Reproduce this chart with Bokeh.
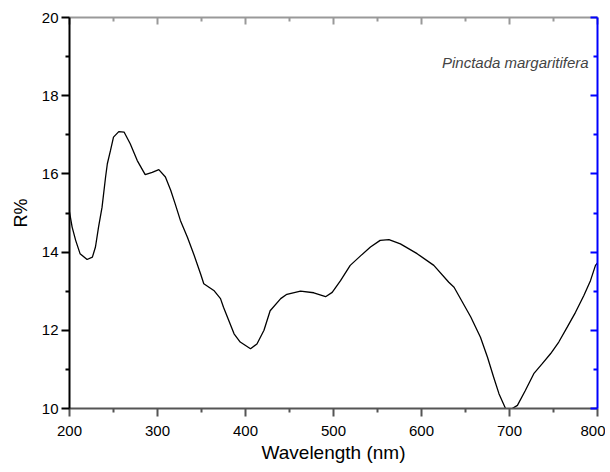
from bokeh.plotting import figure
from bokeh.models import Range1d, LinearAxis, FixedTicker, Label
from bokeh.embed import file_html
from bokeh.resources import INLINE

wavelength = [199, 203, 207, 212, 220, 226, 229.5, 233, 237, 241, 243, 246.6, 250, 256, 262, 269,
              277, 286, 294, 301.5, 309, 315, 320, 326, 334, 341, 349, 352.6, 364, 371.6, 375,
              387, 394, 405.7, 413, 421, 428, 440, 447, 462.5, 477.6, 491, 498.5, 508, 519,
              531, 542, 553, 563, 576, 595, 614, 631, 637, 656, 667, 675, 682, 688, 695.5,
              701, 709, 718, 727.6, 737, 746.6, 756, 765.6, 775, 784.5, 792, 797.7, 800]
reflectance = [15.15, 14.64, 14.3, 13.96, 13.81, 13.87, 14.13, 14.64, 15.15, 15.92, 16.26, 16.6,
               16.94, 17.08, 17.07, 16.77, 16.34, 15.98, 16.04, 16.11, 15.92, 15.58, 15.24,
               14.81, 14.38, 13.96, 13.44, 13.19, 13.02, 12.81, 12.59, 11.91, 11.7, 11.53,
               11.65, 12.0, 12.5, 12.81, 12.92, 13.0, 12.96, 12.86, 12.97, 13.27, 13.66,
               13.91, 14.13, 14.3, 14.32, 14.21, 13.96, 13.66, 13.23, 13.1, 12.34, 11.82,
               11.31, 10.8, 10.38, 10.0, 9.97, 10.08, 10.46, 10.89, 11.14, 11.4, 11.7, 12.08,
               12.46, 12.89, 13.27, 13.66, 13.72]

x_ticks = [200, 300, 400, 500, 600, 700, 800]
x_minor = [250, 350, 450, 550, 650, 750]
y_ticks = [10, 12, 14, 16, 18, 20]
y_minor = [11, 13, 15, 17, 19]
x_label = "Wavelength (nm)"
y_label = "R%"
species = "Pinctada margaritifera"

FONT = "Liberation Sans"

p = figure(frame_width=528, frame_height=391, output_backend="svg", toolbar_location=None,
           x_range=Range1d(200, 800), y_range=Range1d(10, 20),
           min_border_left=69, min_border_right=8, min_border_top=17, min_border_bottom=50)
p.background_fill_color = "white"
p.border_fill_color = "white"
p.outline_line_color = None
p.xgrid.visible = False
p.ygrid.visible = False

p.line(wavelength, reflectance, line_color="black", line_width=1.3)

xa = p.xaxis[0]
ya = p.yaxis[0]
top = LinearAxis()
right = LinearAxis()

for ax in (xa, top):
    ax.ticker = FixedTicker(ticks=x_ticks, minor_ticks=x_minor)
for ax in (ya, right):
    ax.ticker = FixedTicker(ticks=y_ticks, minor_ticks=y_minor)

colors = {id(ya): "black", id(xa): "#555555", id(top): "#999999", id(right): "blue"}
for ax in (xa, ya, top, right):
    c = colors[id(ax)]
    ax.axis_line_color = c
    ax.axis_line_width = 2
    ax.major_tick_line_color = c
    ax.minor_tick_line_color = c
    ax.major_tick_line_width = 2
    ax.minor_tick_line_width = 2
    ax.major_label_text_font = FONT
    ax.major_label_text_font_size = "15px"
    ax.major_label_text_color = "black"

for ax in (xa, ya):
    ax.major_tick_in = 0
    ax.major_tick_out = 8
    ax.minor_tick_in = 0
    ax.minor_tick_out = 4
    ax.axis_label_text_font = FONT
    ax.axis_label_text_font_style = "normal"
    ax.axis_label_text_color = "black"

for ax in (top, right):
    ax.major_tick_in = 7
    ax.major_tick_out = 0
    ax.minor_tick_in = 4
    ax.minor_tick_out = 0
    ax.major_label_standoff = 0
    ax.major_label_overrides = {t: "" for t in (x_ticks if ax is top else y_ticks)}

xa.axis_label = x_label
xa.axis_label_text_font_size = "19px"
xa.major_label_standoff = 9
xa.axis_label_standoff = 3

ya.axis_label = y_label
ya.axis_label_text_font_size = "18px"
ya.major_label_standoff = 3
ya.axis_label_standoff = 8

p.add_layout(top, "above")
p.add_layout(right, "right")

p.add_layout(Label(x=790, y=18.85, text=species, text_align="right", text_baseline="middle",
                   text_font=FONT, text_font_style="italic", text_font_size="15px",
                   text_color="#444444"))

open("out.html", "w").write(file_html(p, INLINE))
